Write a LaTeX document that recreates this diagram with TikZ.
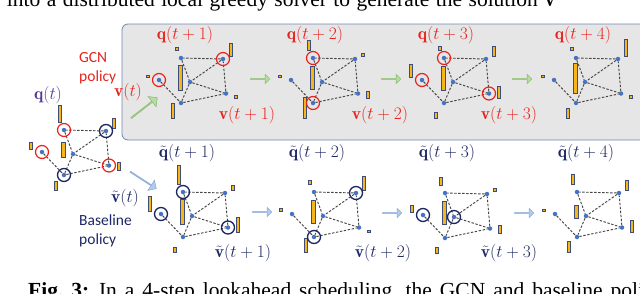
\documentclass[tikz,border=0pt]{standalone}
\usepackage{fix-cm}
\usepackage{amsmath,amssymb}
\usepackage{fontspec}
\newfontfamily\capfont{Liberation Serif}
\newfontfamily\polfont{Carlito}
\usepackage{tikz}
\usetikzlibrary{arrows.meta,positioning,shapes.arrows}
\definecolor{gcnred}{HTML}{E8231E}
\definecolor{basenavy}{HTML}{1D2766}
\definecolor{qpurple}{HTML}{553C9A}
\definecolor{dotblue}{HTML}{4472C4}
\definecolor{qbar}{HTML}{F6B61A}
\definecolor{qbarline}{HTML}{3E4C78}
\definecolor{boxgray}{HTML}{E6E6E6}
\definecolor{boxline}{HTML}{7088B4}
\definecolor{grnfill}{HTML}{B8DCA2}
\definecolor{grnline}{HTML}{8CBF72}
\definecolor{blufill}{HTML}{B4CCEA}
\definecolor{bluline}{HTML}{8FAED8}
\tikzset{
  pt/.style={circle, fill=dotblue, inner sep=0pt, minimum size=4.5pt},
  lnk/.style={draw=black!72, line width=0.95pt, dash pattern=on 2.4pt off 1.6pt},
  bar/.style={fill=qbar, draw=qbarline, line width=0.6pt},
  rring/.style={draw=gcnred, line width=1.2pt},
  bring/.style={draw=basenavy, line width=1.3pt},
  lab/.style={font=\fontsize{17.5}{20}\selectfont, inner sep=0pt},
  pol/.style={font=\polfont\fontsize{15.5}{18.5}\selectfont, align=left, inner sep=0pt, anchor=west},
  captxt/.style={font=\capfont\fontsize{21.5}{25}\selectfont, inner sep=0pt, anchor=base west},
  garr/.style={single arrow, draw=grnline, fill=grnfill, inner sep=0pt, line width=0.6pt,
               minimum height=19pt, minimum width=9pt, single arrow head extend=2pt},
  barr/.style={garr, draw=bluline, fill=blufill}
}
% one network snapshot: name, centre, queue heights of nodes a..f
\newcommand{\net}[8]{%
  \node[pt] (#1d) at (#2) {};
  \node[pt] (#1a) at ([shift={(-31,-2)}]#1d.center) {};
  \node[pt] (#1b) at ([shift={(-9,-24)}]#1d.center) {};
  \node[pt] (#1c) at ([shift={(33,-23)}]#1d.center) {};
  \node[pt] (#1e) at ([shift={(36,11.5)}]#1d.center) {};
  \node[pt] (#1f) at ([shift={(-9,21)}]#1d.center) {};
  \draw[lnk] (#1a) -- (#1f) -- (#1e) -- (#1c) -- (#1b) -- (#1d) -- (#1f) (#1c) -- (#1d) -- (#1e);
  \draw[bar] ([shift={(-12.75,-3)}]#1a.center) rectangle ++(3.5,-#3);
  \draw[bar] ([shift={(-5.75,-8)}]#1b.center) rectangle ++(3.5,-#4);
  \draw[bar] ([shift={(6.25,-3)}]#1c.center) rectangle ++(3.5,-#5);
  \draw[bar] ([shift={(-11.25,{-4+#6/2})}]#1d.center) rectangle ++(3.5,-#6);
  \draw[bar] ([shift={(8.25,4.5)}]#1e.center) rectangle ++(3.5,-#7);
  \draw[bar] ([shift={(-9.75,15)}]#1f.center) rectangle ++(3.5,-#8);
}

\begin{document}
\begin{tikzpicture}[x=1pt, y=-1pt]
\useasboundingbox (0,0) rectangle (640,293);
\clip (0,0) rectangle (640,293);
\fill[white] (0,0) rectangle (640,293);
\draw[fill=boxgray, draw=boxline, line width=0.8pt, rounded corners=6pt] (122,24) rectangle (660,140);

\net{st}{73,154}{7}{17}{10}{15}{8}{9}
\net{gc1}{190,82}{2}{3}{13}{25}{2.5}{15}
\net{gc2}{322,82}{2}{10}{3}{23}{7}{21}
\net{gc3}{453,82}{13}{4}{10}{24}{12}{6}
\net{gc4}{585,82}{2}{3}{17}{30}{3}{10}
\net{bl1}{192,216}{15}{19}{5}{25}{15}{5}
\net{bl2}{323,216}{3}{4}{14}{23}{2}{14}
\net{bl3}{454,217}{7}{8}{3}{23}{8}{6}
\net{bl4}{586,216}{2}{10}{10}{13}{12}{11}

\foreach \r in {sta,stb,ste,gc1a,gc1c,gc2b,gc2f,gc3a,gc3b,gc3e}
  \draw[rring] (\r) circle (6.5pt);
\foreach \r in {stc,stf,bl1a,bl1b,bl1e,bl2c,bl2f,bl3a,bl3d}
  \draw[bring] (\r) circle (6.5pt);

% block arrows
\node[garr, minimum height=33pt, minimum width=13pt, single arrow head extend=3pt, rotate=38] (gs0) at (144,108) {};
\node[garr] (gs1) at (260,79) {};
\node[garr] (gs2) at (391,79) {};
\node[garr] (gs3) at (522,79) {};
\node[barr, minimum height=31pt, minimum width=12pt, single arrow head extend=3pt, rotate=-33] (bs0) at (143,180) {};
\node[barr] (bs1) at (262,212) {};
\node[barr] (bs2) at (392,213) {};
\node[barr] (bs3) at (524,213) {};

% labels
\node[lab, text=qpurple] (q0) at (48,95) {$\mathbf{q}(t)$};
\node[lab, text=gcnred] (v0) at (128,92) {$\mathbf{v}(t)$};
\node[lab, text=gcnred] (qg1) at (185,35) {$\mathbf{q}(t+1)$};
\node[lab, text=gcnred] (qg2) at (315,35) {$\mathbf{q}(t+2)$};
\node[lab, text=gcnred] (qg3) at (446,35) {$\mathbf{q}(t+3)$};
\node[lab, text=gcnred] (qg4) at (583,35) {$\mathbf{q}(t+4)$};
\node[lab, text=gcnred] (vg1) at (247,115) {$\mathbf{v}(t+1)$};
\node[lab, text=gcnred] (vg2) at (380,115) {$\mathbf{v}(t+2)$};
\node[lab, text=gcnred] (vg3) at (509,115) {$\mathbf{v}(t+3)$};
\node[lab, text=basenavy] (qb1) at (187,153) {$\tilde{\mathbf{q}}(t+1)$};
\node[lab, text=basenavy] (qb2) at (317,153) {$\tilde{\mathbf{q}}(t+2)$};
\node[lab, text=basenavy] (qb3) at (447,153) {$\tilde{\mathbf{q}}(t+3)$};
\node[lab, text=basenavy] (qb4) at (586,153) {$\tilde{\mathbf{q}}(t+4)$};
\node[lab, text=basenavy] (vb0) at (125,198) {$\tilde{\mathbf{v}}(t)$};
\node[lab, text=basenavy] (vb1) at (243,253) {$\tilde{\mathbf{v}}(t+1)$};
\node[lab, text=basenavy] (vb2) at (383,253) {$\tilde{\mathbf{v}}(t+2)$};
\node[lab, text=basenavy] (vb3) at (509,253) {$\tilde{\mathbf{v}}(t+3)$};
\node[pol, text=gcnred] (gcnpol) at (79,68) {GCN\\policy};
\node[pol, text=basenavy] (blpol) at (79,231) {Baseline\\policy};

% cut-off caption lines
\node[captxt] (toptxt) at (-20,6) {\spaceskip=0.3em ed into a distributed local greedy solver to generate the solution $\hat{\mathbf{v}}^{\mathrm{GCN}}$};
\node[captxt] (figcap) at (28,297) {\spaceskip=0.37em \textbf{Fig.~3:} In a 4-step lookahead scheduling, the GCN and baseline policies};
\end{tikzpicture}
\end{document}
